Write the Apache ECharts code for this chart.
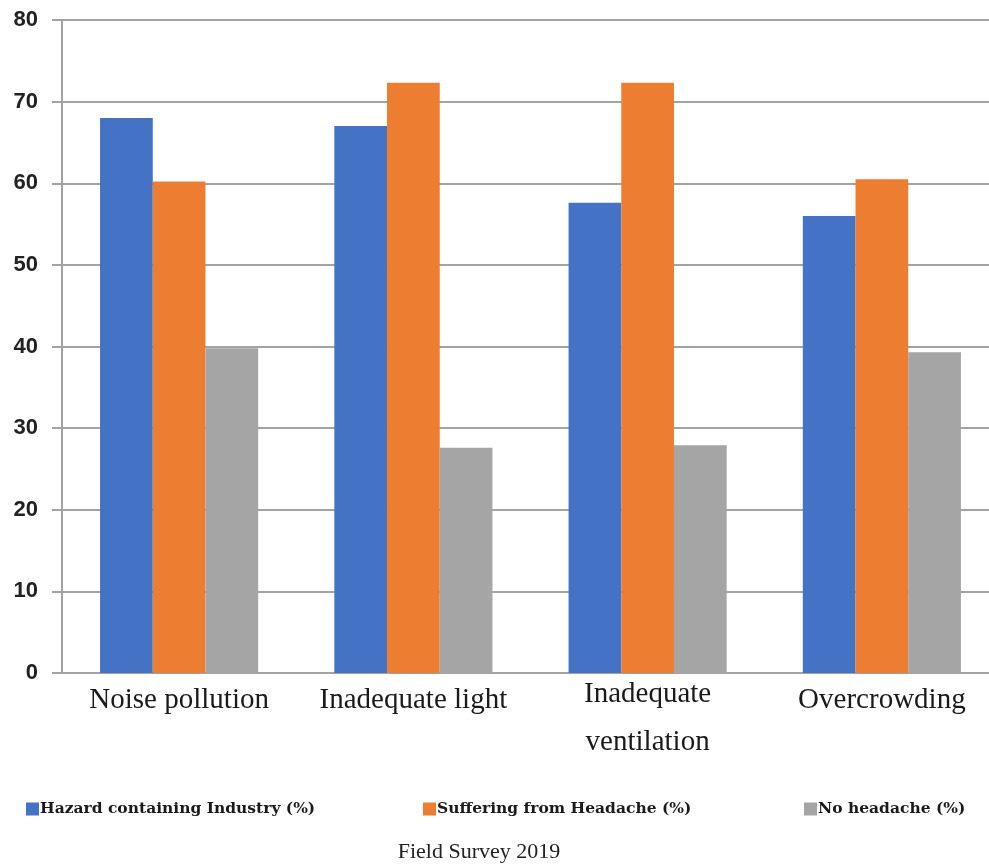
<!DOCTYPE html>
<html>
<head>
<meta charset="utf-8">
<script src="https://cdn.jsdelivr.net/npm/echarts@6/dist/echarts.min.js"></script>
<style>
  html, body { margin: 0; padding: 0; background: #fff; }
  #chart { width: 989px; height: 865px; }
</style>
</head>
<body>
<div id="chart"></div>
<script>
// Survey categories and the three percentage series
const categories = ['Noise pollution', 'Inadequate light', 'Inadequate\nventilation', 'Overcrowding'];
const hazardIndustry = [68.0, 67.0, 57.6, 56.0];
const sufferingHeadache = [60.2, 72.3, 72.3, 60.5];
const noHeadache = [39.8, 27.6, 27.9, 39.3];
const seriesNames = ['Hazard containing Industry (%)', 'Suffering from Headache (%)', 'No headache (%)'];
const yTicks = { min: 0, max: 80, step: 10 };

const colors = ['#4472C4', '#ED7D31', '#A5A5A5'];
const gridGrey = '#a3a3a3';

const legendText = {
  fontFamily: '"DejaVu Serif", serif',
  fontWeight: 'bold',
  fontSize: 15.5,
  color: '#1a1a1a'
};

function legendAt(name, left) {
  return {
    data: [name],
    left: left,
    top: 801,
    itemWidth: 13,
    itemHeight: 13,
    itemGap: 0,
    padding: 0,
    icon: 'rect',
    textStyle: Object.assign({ padding: [0, 0, 0, -4] }, legendText)
  };
}

// single-line category labels sit slightly lower than wrapped ones
const axisData = categories.map(function (c) {
  return c.indexOf('\n') >= 0 ? c : { value: c, textStyle: { padding: [6, 0, 0, 0] } };
});

const chart = echarts.init(document.getElementById('chart'), null, { renderer: 'canvas' });
chart.setOption({
  animation: false,
  backgroundColor: '#ffffff',
  color: colors,
  // the plot runs a few pixels past the right edge of the canvas
  grid: { left: 62, width: 937, top: 20, bottom: 192, containLabel: false, outerBoundsMode: 'none' },
  title: {
    text: 'Field Survey 2019',
    left: 474,
    textAlign: 'center',
    top: 836,
    textStyle: {
      fontFamily: '"Liberation Serif", "Times New Roman", serif',
      fontWeight: 'normal',
      fontSize: 22,
      color: '#222'
    }
  },
  legend: [
    legendAt(seriesNames[0], 26),
    legendAt(seriesNames[1], 423),
    legendAt(seriesNames[2], 804)
  ],
  xAxis: {
    type: 'category',
    data: axisData,
    axisLine: { show: true, lineStyle: { color: gridGrey, width: 2 } },
    axisTick: { show: false },
    axisLabel: {
      interval: 0,
      margin: -3,
      verticalAlign: 'top',
      fontFamily: '"Liberation Serif", "Times New Roman", serif',
      fontSize: 29,
      lineHeight: 48,
      color: '#1a1a1a'
    }
  },
  yAxis: {
    type: 'value',
    min: yTicks.min,
    max: yTicks.max,
    interval: yTicks.step,
    axisLine: { show: true, lineStyle: { color: gridGrey, width: 2 } },
    axisTick: { show: true, length: 10, lineStyle: { color: gridGrey, width: 2 } },
    splitLine: { show: true, lineStyle: { color: gridGrey, width: 2 } },
    axisLabel: {
      margin: 24,
      fontFamily: '"Liberation Sans", Arial, sans-serif',
      fontWeight: 'bold',
      fontSize: 22,
      color: '#222'
    }
  },
  series: [
    { name: seriesNames[0], type: 'bar', data: hazardIndustry, barGap: '0%', barCategoryGap: '32.5%' },
    { name: seriesNames[1], type: 'bar', data: sufferingHeadache, barGap: '0%', barCategoryGap: '32.5%' },
    { name: seriesNames[2], type: 'bar', data: noHeadache, barGap: '0%', barCategoryGap: '32.5%' }
  ]
});
</script>
</body>
</html>
